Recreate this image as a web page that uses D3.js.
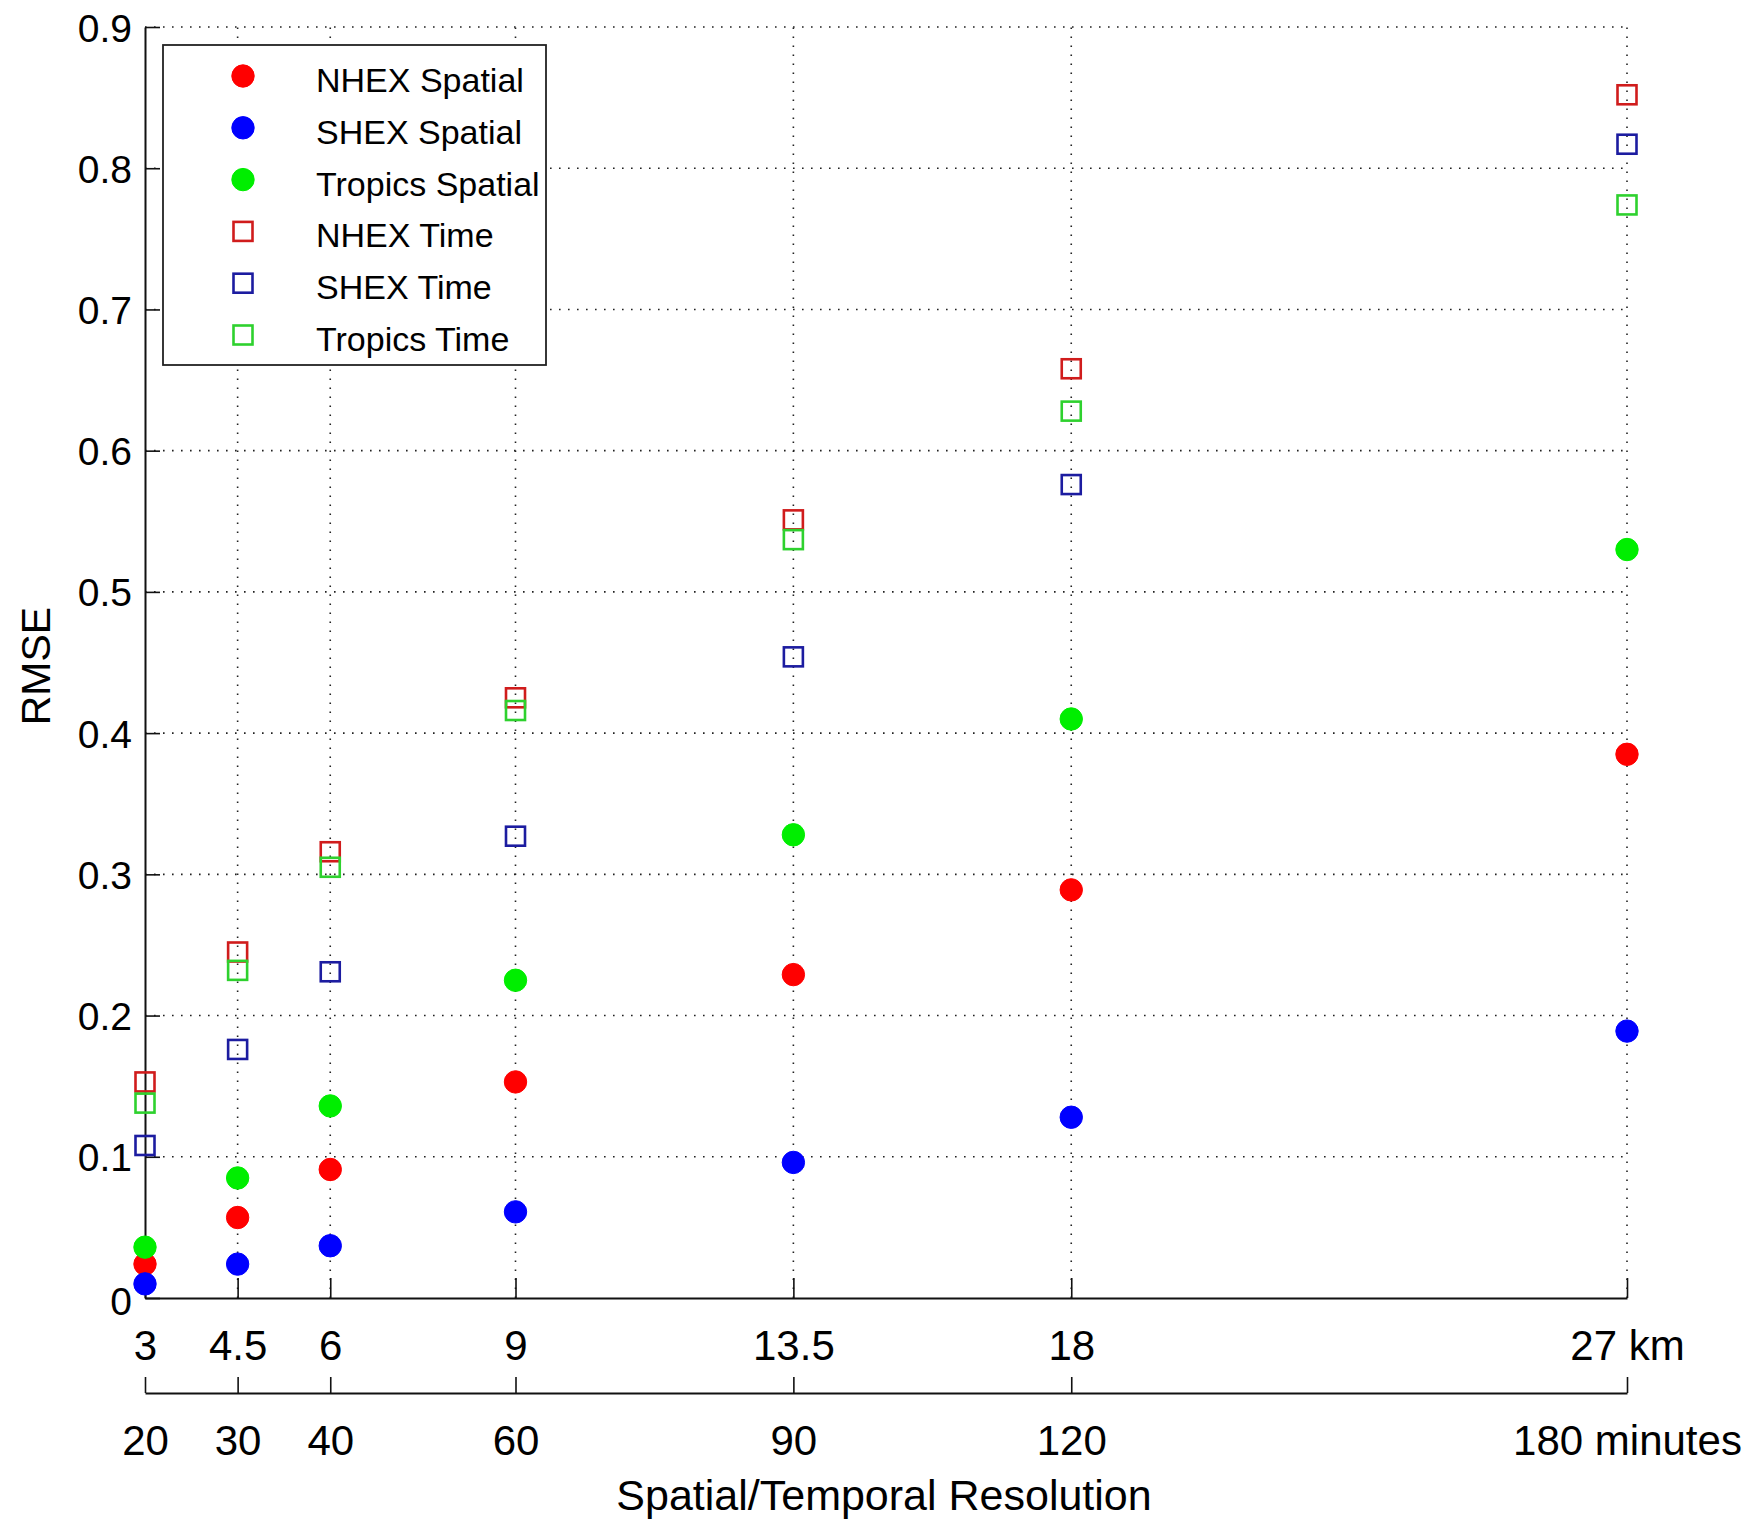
<!DOCTYPE html>
<html>
<head>
<meta charset="utf-8">
<script src="https://cdn.jsdelivr.net/npm/d3@7"></script>
<style>
  html, body { margin: 0; padding: 0; background: #fff; }
  svg { display: block; font-family: "Liberation Sans", Arial, Helvetica, sans-serif; }
</style>
</head>
<body>
<svg id="chart" width="1750" height="1522"></svg>
<script>
// ---- data ----
const kmTicks = [3, 4.5, 6, 9, 13.5, 18, 27];
const kmLabels = ["3", "4.5", "6", "9", "13.5", "18", "27 km"];
const minuteTicks = [20, 30, 40, 60, 90, 120, 180];
const minuteLabels = ["20", "30", "40", "60", "90", "120", "180 minutes"];
const yTicks = [0, 0.1, 0.2, 0.3, 0.4, 0.5, 0.6, 0.7, 0.8, 0.9];

const nhexSpatial    = [0.024, 0.057, 0.091, 0.153, 0.229, 0.289, 0.385];
const shexSpatial    = [0.010, 0.024, 0.037, 0.061, 0.096, 0.128, 0.189];
const tropicsSpatial = [0.036, 0.085, 0.136, 0.225, 0.328, 0.410, 0.530];
const nhexTime       = [0.153, 0.245, 0.316, 0.425, 0.551, 0.658, 0.852];
const shexTime       = [0.108, 0.176, 0.231, 0.327, 0.454, 0.576, 0.817];
const tropicsTime    = [0.138, 0.232, 0.305, 0.416, 0.537, 0.628, 0.774];

const seriesNames = ["NHEX Spatial", "SHEX Spatial", "Tropics Spatial", "NHEX Time", "SHEX Time", "Tropics Time"];
const seriesValues = [nhexSpatial, shexSpatial, tropicsSpatial, nhexTime, shexTime, tropicsTime];
const seriesColors = ["#ff0000", "#0000ff", "#00ee00", "#d01c1c", "#1c1ca0", "#2ed12e"];
const seriesShapes = ["circle", "circle", "circle", "square", "square", "square"];

// ---- layout ----
const svg = d3.select("#chart");
const x = d3.scaleLinear().domain([3, 27]).range([145, 1627]);
const x2 = d3.scaleLinear().domain([20, 180]).range([145, 1627]);
const y = d3.scaleLinear().domain([0, 0.9]).range([1298, 27]);

const gridDash = "1.6,7.4";

// grid lines
const grid = svg.append("g");
grid.selectAll("line.hg").data(yTicks.filter(d => d > 0)).enter().append("line")
  .attr("x1", x(3)).attr("x2", x(27))
  .attr("y1", d => y(d)).attr("y2", d => y(d))
  .attr("stroke", "#222").attr("stroke-width", 1.6).attr("stroke-dasharray", gridDash);
grid.selectAll("line.vg").data(kmTicks.filter(d => d > 3)).enter().append("line")
  .attr("x1", d => x(d)).attr("x2", d => x(d))
  .attr("y1", y(0)).attr("y2", y(0.9))
  .attr("stroke", "#222").attr("stroke-width", 1.6).attr("stroke-dasharray", gridDash);

// main x axis (km)
const xAxis = svg.append("g").attr("transform", `translate(0,${y(0)})`)
  .call(d3.axisBottom(x).tickValues(kmTicks).tickFormat((d, i) => kmLabels[i]).tickSize(-20).tickSizeOuter(0));
xAxis.select(".domain").attr("stroke", "#111").attr("stroke-width", 2);
xAxis.selectAll(".tick line").attr("stroke", "#111").attr("stroke-width", 1.6);
xAxis.selectAll(".tick text").attr("y", 62).attr("dy", 0)
  .attr("font-size", 42).attr("fill", "#000").attr("font-family", "Liberation Sans, Arial, sans-serif");

// second x axis (minutes)
const x2Axis = svg.append("g").attr("transform", `translate(0,1393)`)
  .call(d3.axisBottom(x2).tickValues(minuteTicks).tickFormat((d, i) => minuteLabels[i]).tickSize(-16).tickSizeOuter(0));
x2Axis.select(".domain").attr("stroke", "#111").attr("stroke-width", 2);
x2Axis.selectAll(".tick line").attr("stroke", "#111").attr("stroke-width", 1.6);
x2Axis.selectAll(".tick text").attr("y", 62).attr("dy", 0)
  .attr("font-size", 42).attr("fill", "#000").attr("font-family", "Liberation Sans, Arial, sans-serif");

// y axis
const yAxis = svg.append("g").attr("transform", `translate(${x(3)},0)`)
  .call(d3.axisLeft(y).tickValues(yTicks).tickFormat(d => d === 0 ? "0" : d3.format(".1f")(d)).tickSize(-15).tickSizeOuter(0).tickPadding(13));
yAxis.select(".domain").attr("stroke", "#111").attr("stroke-width", 2);
yAxis.selectAll(".tick line").attr("stroke", "#111").attr("stroke-width", 1.6);
yAxis.selectAll(".tick text").attr("font-size", 39).attr("fill", "#000")
  .attr("font-family", "Liberation Sans, Arial, sans-serif")
  .attr("dy", d => d === 0 ? "0.42em" : "0.36em");

// axis titles
svg.append("text").attr("x", 884).attr("y", 1510).attr("text-anchor", "middle")
  .attr("font-size", 43).attr("fill", "#000").text("Spatial/Temporal Resolution");
svg.append("text").attr("transform", "translate(50,666) rotate(-90)").attr("text-anchor", "middle")
  .attr("font-size", 41).attr("fill", "#000").text("RMSE");

// points
const pts = svg.append("g");
seriesValues.forEach((vals, si) => {
  const data = vals.map((v, i) => ({ k: kmTicks[i], v }));
  if (seriesShapes[si] === "circle") {
    pts.selectAll(null).data(data).enter().append("circle")
      .attr("cx", d => x(d.k)).attr("cy", d => y(d.v)).attr("r", 11.2)
      .attr("fill", seriesColors[si]).attr("stroke", seriesColors[si]).attr("stroke-width", 1);
  } else {
    pts.selectAll(null).data(data).enter().append("rect")
      .attr("x", d => x(d.k) - 9.5).attr("y", d => y(d.v) - 9.5)
      .attr("width", 19).attr("height", 19)
      .attr("fill", "none").attr("stroke", seriesColors[si]).attr("stroke-width", 2.6);
  }
});

// legend
const leg = svg.append("g");
leg.append("rect").attr("x", 163).attr("y", 45).attr("width", 383).attr("height", 320)
  .attr("fill", "#fff").attr("stroke", "#222").attr("stroke-width", 1.8);
seriesNames.forEach((name, i) => {
  const cy = 78 + i * 51.8;
  if (seriesShapes[i] === "circle") {
    leg.append("circle").attr("cx", 243).attr("cy", cy - 2).attr("r", 11.2)
      .attr("fill", seriesColors[i]).attr("stroke", seriesColors[i]).attr("stroke-width", 1);
  } else {
    leg.append("rect").attr("x", 243 - 9.5).attr("y", cy - 11.5).attr("width", 19).attr("height", 19)
      .attr("fill", "none").attr("stroke", seriesColors[i]).attr("stroke-width", 2.6);
  }
  leg.append("text").attr("x", 316).attr("y", cy + 14).attr("font-size", 34).attr("fill", "#000").text(name);
});
</script>
</body>
</html>
